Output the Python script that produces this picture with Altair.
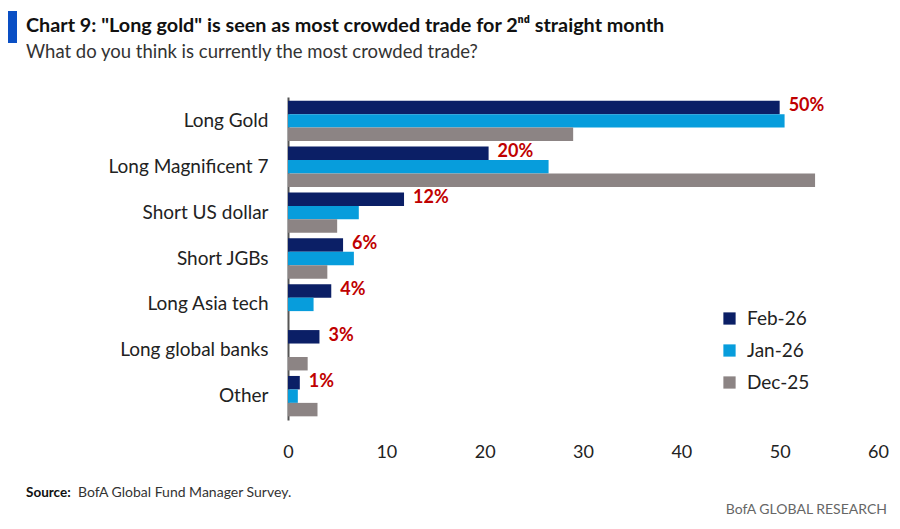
import altair as alt
import pandas as pd

categories = ["Long Gold", "Long Magnificent 7", "Short US dollar", "Short JGBs",
              "Long Asia tech", "Long global banks", "Other"]
series = ["Feb-26", "Jan-26", "Dec-25"]
feb = [50.0, 20.4, 11.8, 5.6, 4.4, 3.2, 1.2]
jan = [50.5, 26.5, 7.2, 6.7, 2.6, 0.0, 1.0]
dec = [29.0, 53.6, 5.0, 4.0, 0.0, 2.0, 3.0]
feb_labels = ["50%", "20%", "12%", "6%", "4%", "3%", "1%"]
x_ticks = [0, 10, 20, 30, 40, 50, 60]

title_text = "Chart 9: \"Long gold\" is seen as most crowded trade for 2\u207f\u1d48 straight month"
subtitle_text = "What do you think is currently the most crowded trade?"
source_bold = "Source:"
source_rest = "BofA Global Fund Manager Survey."
brand_text = "BofA GLOBAL RESEARCH"

colors = ["#0b1f66", "#079ddc", "#8c8484"]
FONT = "Lato"

rows = []
for s, vals in zip(series, [feb, jan, dec]):
    for c, v in zip(categories, vals):
        rows.append({"category": c, "series": s, "value": v})
df = pd.DataFrame(rows)
lab_df = pd.DataFrame({"category": categories, "series": ["Feb-26"] * len(categories),
                       "value": feb, "label": feb_labels})

y_enc = alt.Y("category:N", sort=categories, title=None,
              scale=alt.Scale(paddingInner=0.12, paddingOuter=0.08),
              axis=alt.Axis(labelFontSize=19, labelColor="#222222", labelFont=FONT,
                            ticks=False, labelPadding=20, domainColor="#555555",
                            domainWidth=2))
yoff = alt.YOffset("series:N", sort=series, scale=alt.Scale(domain=series))
x_enc = alt.X("value:Q", title=None,
              scale=alt.Scale(domain=[0, 60], nice=False),
              axis=alt.Axis(values=x_ticks, labelFontSize=18, labelColor="#222222",
                            labelFont=FONT, ticks=False, domain=False, grid=False,
                            labelFlush=False, labelPadding=23))

bars = alt.Chart(df).mark_bar().encode(
    x=x_enc, y=y_enc, yOffset=yoff,
    color=alt.Color("series:N", sort=series,
                    scale=alt.Scale(domain=series, range=colors),
                    legend=alt.Legend(title=None, orient="none", legendX=432, legendY=212,
                                      labelFontSize=19, labelFont=FONT, labelColor="#222222",
                                      symbolType="square", symbolSize=150,
                                      symbolStrokeWidth=0, rowPadding=12, labelOffset=8)))

labels = alt.Chart(lab_df).mark_text(align="left", baseline="middle", dx=9, dy=-1,
                                     fontSize=18, fontWeight="bold", font=FONT,
                                     color="#c00000").encode(
    x="value:Q", y=alt.Y("category:N", sort=categories), yOffset=yoff, text="label:N")

one = pd.DataFrame({"a": [0]})
blue_rect = alt.Chart(one).mark_rect(color="#0a4fc4").encode(
    x=alt.value(-280), x2=alt.value(-271), y=alt.value(-86), y2=alt.value(-54))
title = alt.Chart(one).mark_text(align="left", baseline="alphabetic", fontSize=19.8,
                                 fontWeight="bold", font=FONT,
                                 color="#111111").encode(
    x=alt.value(-262), y=alt.value(-65), text=alt.value(title_text))
subtitle = alt.Chart(one).mark_text(align="left", baseline="alphabetic", fontSize=18.5,
                                    font=FONT, color="#333333").encode(
    x=alt.value(-262), y=alt.value(-39), text=alt.value(subtitle_text))
src1 = alt.Chart(one).mark_text(align="left", baseline="alphabetic", fontSize=13.5,
                                fontWeight="bold", font=FONT,
                                color="#111111").encode(
    x=alt.value(-262), y=alt.value(400), text=alt.value(source_bold))
src2 = alt.Chart(one).mark_text(align="left", baseline="alphabetic", fontSize=14,
                                font=FONT, color="#333333").encode(
    x=alt.value(-210), y=alt.value(400), text=alt.value(source_rest))
brand = alt.Chart(one).mark_text(align="right", baseline="alphabetic", fontSize=14,
                                 font=FONT, color="#666666").encode(
    x=alt.value(599), y=alt.value(417), text=alt.value(brand_text))

chart = alt.layer(bars, labels, blue_rect, title, subtitle, src1, src2, brand).properties(
    width=590, height=323,
    background="white",
    autosize=alt.AutoSizeParams(type="none"),
    padding={"left": 280, "top": 89, "right": 14, "bottom": 100},
).configure_view(strokeWidth=0, stroke="transparent")

chart.save("out.html", embed_options={"renderer": "svg", "actions": False})
